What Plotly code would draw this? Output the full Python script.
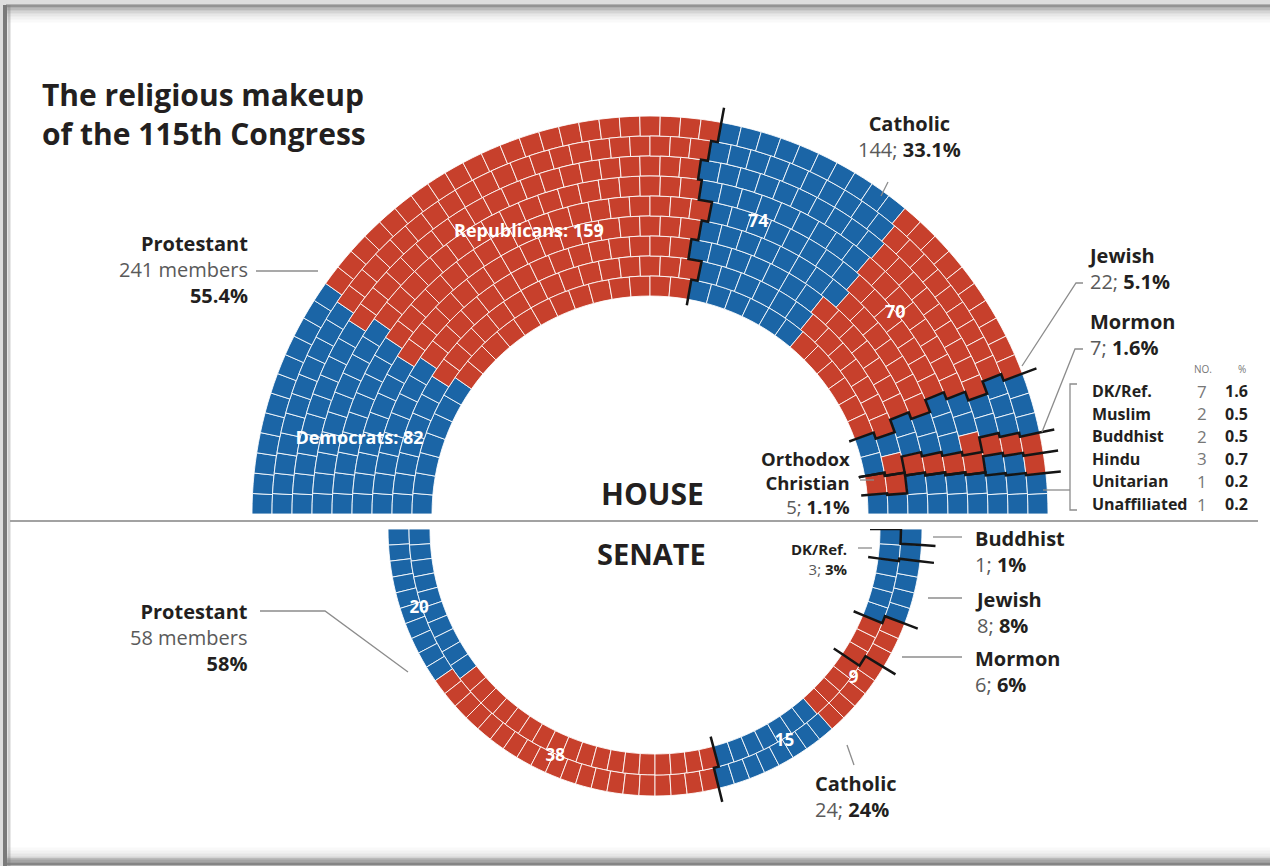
import numpy as np
import plotly.graph_objects as go

W, H = 1270, 866

# ---------------- DATA ----------------
house_groups = ["Protestant", "Catholic", "Jewish", "Mormon", "Orthodox Christian",
                "DK/Ref.", "Muslim", "Buddhist", "Hindu", "Unitarian", "Unaffiliated"]
house_dem = [82, 74, 20, 0, 2, 7, 2, 2, 3, 1, 1]
house_rep = [159, 70, 2, 7, 3, 0, 0, 0, 0, 0, 0]
house_lined = ["Protestant", "Catholic", "Jewish", "Mormon", "Orthodox Christian"]  # black line after these

senate_groups = ["Protestant", "Catholic", "Mormon", "Jewish", "DK/Ref.", "Buddhist"]
senate_dem = [20, 15, 0, 8, 3, 1]
senate_rep = [38, 9, 6, 0, 0, 0]
senate_lined = ["Protestant", "Catholic", "Mormon", "Jewish", "DK/Ref."]

table_names = ["DK/Ref.", "Muslim", "Buddhist", "Hindu", "Unitarian", "Unaffiliated"]

BLUE = "#1b65a6"
RED = "#c7402c"
DARK = "#231f20"
GRAY = "#5a5a5a"
FONT = "Open Sans"

# geometry (pixels)
H_CX, H_CY, H_RIN, H_ROUT, H_ROWS, H_EXT = 650, 514, 218, 398, 9, 15
S_CX, S_CY, S_RIN, S_ROUT, S_ROWS, S_EXT = 655, 529, 225, 267, 2, 14


def px(x):
    return x / W


def py(y):
    return 1 - y / H


def seat_layout(total, rows, r_in, r_out, t0, t1):
    dr = (r_out - r_in) / rows
    radii = np.array([r_in + (i + 0.5) * dr for i in range(rows)])
    raw = radii / radii.sum() * total
    counts = np.floor(raw).astype(int)
    rem = total - counts.sum()
    for k in np.argsort(-(raw - counts))[:rem]:
        counts[k] += 1
    seats = []
    for i, n in enumerate(counts):
        for j in range(n):
            p = (j + 0.5) / n
            seats.append(dict(p=p, row=i, n=n))
    seats.sort(key=lambda s: (s["p"], -s["row"]))
    for s in seats:
        s["theta"] = t0 + s["p"] * (t1 - t0)
        s["width"] = abs(t1 - t0) / s["n"]
        s["base"] = r_in + s["row"] * dr
    return seats, counts, dr


def build(groups, dem, rep, lined, rows, r_in, r_out, t0, t1, ext_out, ext_in):
    total = sum(dem) + sum(rep)
    seats, counts, dr = seat_layout(total, rows, r_in, r_out, t0, t1)
    k = 0
    gidx = {}
    bounds = []
    for g, d, r in zip(groups, dem, rep):
        start = k
        for _ in range(d):
            seats[k]["party"] = "D"; seats[k]["group"] = g; k += 1
        for _ in range(r):
            seats[k]["party"] = "R"; seats[k]["group"] = g; k += 1
        gidx[g] = (start, start + d, k)
        if g in lined:
            bounds.append(k)
    paths = []
    for K in bounds:
        m = np.zeros(rows)
        for s in seats[:K]:
            m[s["row"]] += 1
        rr, tt = [], []
        for i in range(rows):
            th = t0 + (m[i] / counts[i]) * (t1 - t0)
            ri = r_in + i * dr
            ro = ri + dr
            if i == 0:
                rr.append(ri - ext_in); tt.append(th)
            rr += [ri, ro]; tt += [th, th]
            if i == rows - 1:
                rr.append(ro + ext_out); tt.append(th)
        paths.append((rr, tt))
    return seats, gidx, paths, dr


def frac_theta(seats, a, b, f):
    th = [s["theta"] for s in seats[a:b]]
    lo, hi = th[0], th[-1]
    return lo + f * (hi - lo)


fig = go.Figure()

# ---------------- HOUSE ----------------
h_seats, h_idx, h_paths, h_dr = build(house_groups, house_dem, house_rep, house_lined,
                                      H_ROWS, H_RIN, H_ROUT, 180, 0, H_EXT, 6)
for party, col in (("D", BLUE), ("R", RED)):
    ss = [s for s in h_seats if s["party"] == party]
    fig.add_trace(go.Barpolar(
        theta=[s["theta"] for s in ss], r=[h_dr] * len(ss), base=[s["base"] for s in ss],
        width=[s["width"] for s in ss], marker=dict(color=col, line=dict(color="rgba(255,255,255,0.85)", width=1)),
        hoverinfo="skip", subplot="polar", showlegend=False))
for rr, tt in h_paths:
    fig.add_trace(go.Scatterpolar(r=rr, theta=tt, mode="lines", line=dict(color="#151515", width=2.5),
                                  hoverinfo="skip", subplot="polar", showlegend=False))

h_lab = []
a, d, b = h_idx["Protestant"]
h_lab += [(frac_theta(h_seats, a, d, 0.4), 300, f"Democrats: {house_dem[0]}"),
          (frac_theta(h_seats, d, b, 0.5), 306, f"Republicans: {house_rep[0]}")]
a, d, b = h_idx["Catholic"]
h_lab += [(frac_theta(h_seats, a, d, 0.35), 311, f"{house_dem[1]}"),
          (frac_theta(h_seats, d, b, 0.35), 317, f"{house_rep[1]}")]
fig.add_trace(go.Scatterpolar(r=[r for _, r, _ in h_lab], theta=[t for t, _, _ in h_lab],
                              text=[f"<b>{x}</b>" for _, _, x in h_lab],
                              mode="text", textfont=dict(color="white", size=18, family=FONT),
                              hoverinfo="skip", subplot="polar", showlegend=False))

# ---------------- SENATE ----------------
s_seats, s_idx, s_paths, s_dr = build(senate_groups, senate_dem, senate_rep, senate_lined,
                                      S_ROWS, S_RIN, S_ROUT, 180, 360, S_EXT, 10)
for party, col in (("D", BLUE), ("R", RED)):
    ss = [s for s in s_seats if s["party"] == party]
    fig.add_trace(go.Barpolar(
        theta=[s["theta"] for s in ss], r=[s_dr] * len(ss), base=[s["base"] for s in ss],
        width=[s["width"] for s in ss], marker=dict(color=col, line=dict(color="rgba(255,255,255,0.85)", width=1)),
        hoverinfo="skip", subplot="polar2", showlegend=False))
for rr, tt in s_paths:
    fig.add_trace(go.Scatterpolar(r=rr, theta=tt, mode="lines", line=dict(color="#151515", width=2.5),
                                  hoverinfo="skip", subplot="polar2", showlegend=False))
s_mid = (S_RIN + S_ROUT) / 2 + 3
s_lab = []
a, d, b = s_idx["Protestant"]
s_lab += [(frac_theta(s_seats, a, d, 0.5), f"{senate_dem[0]}"), (frac_theta(s_seats, d, b, 0.45), f"{senate_rep[0]}")]
a, d, b = s_idx["Catholic"]
s_lab += [(frac_theta(s_seats, a, d, 0.65), f"{senate_dem[1]}"), (frac_theta(s_seats, d, b, 0.7), f"{senate_rep[1]}")]
fig.add_trace(go.Scatterpolar(r=[s_mid] * len(s_lab), theta=[t for t, _ in s_lab], text=[f"<b>{x}</b>" for _, x in s_lab],
                              mode="text", textfont=dict(color="white", size=17, family=FONT),
                              hoverinfo="skip", subplot="polar2", showlegend=False))

HR = H_ROUT + H_EXT + 4
SR = S_ROUT + S_EXT + 4
fig.update_layout(
    width=W, height=H, margin=dict(l=0, r=0, t=0, b=0),
    paper_bgcolor="#dedede", plot_bgcolor="white",
    polar=dict(domain=dict(x=[px(H_CX - HR), px(H_CX + HR)], y=[py(H_CY), py(H_CY - HR)]),
               sector=[0, 180], bgcolor="rgba(0,0,0,0)",
               radialaxis=dict(visible=False, range=[0, HR]),
               angularaxis=dict(visible=False, direction="counterclockwise", rotation=0)),
    polar2=dict(domain=dict(x=[px(S_CX - SR), px(S_CX + SR)], y=[py(S_CY + SR), py(S_CY)]),
                sector=[180, 360], bgcolor="rgba(0,0,0,0)",
                radialaxis=dict(visible=False, range=[0, SR]),
                angularaxis=dict(visible=False, direction="counterclockwise", rotation=0)),
)

# ---------------- FRAME ----------------
shapes = []
shapes.append(dict(type="rect", xref="paper", yref="paper", x0=px(6), x1=px(1275), y0=py(858), y1=py(5),
                   fillcolor="white", line=dict(width=0), layer="below"))
for i, op in enumerate([0.55, 0.35, 0.22, 0.13, 0.07, 0.03]):
    shapes.append(dict(type="line", xref="paper", yref="paper", x0=px(6), x1=px(1275), y0=py(6 + 3 * i), y1=py(6 + 3 * i),
                       line=dict(color=f"rgba(60,60,60,{op})", width=3), layer="below"))
    shapes.append(dict(type="line", xref="paper", yref="paper", x0=px(6), x1=px(1275), y0=py(864 - 3 * i), y1=py(864 - 3 * i),
                       line=dict(color=f"rgba(60,60,60,{op})", width=3), layer="below"))
shapes.append(dict(type="line", xref="paper", yref="paper", x0=px(5), x1=px(5), y0=py(5), y1=py(866),
                   line=dict(color="#7a7a7a", width=4), layer="below"))
shapes.append(dict(type="line", xref="paper", yref="paper", x0=px(9), x1=px(9), y0=py(5), y1=py(866),
                   line=dict(color="rgba(120,120,120,0.35)", width=3), layer="below"))
shapes.append(dict(type="line", xref="paper", yref="paper", x0=px(10), x1=px(1258), y0=py(521), y1=py(521),
                   line=dict(color="#a2a2a2", width=2)))


def poly(points, color="#8c8c8c", width=1.3):
    path = "M " + " L ".join(f"{px(x)},{py(y)}" for x, y in points)
    shapes.append(dict(type="path", xref="paper", yref="paper", path=path, line=dict(color=color, width=width)))


poly([(256, 271), (318, 271)])
poly([(888, 182), (881, 196)])
poly([(1083, 283), (1076, 283), (1022, 366)])
poly([(1083, 349), (1075, 349), (1042, 432)])
poly([(1077, 384), (1070, 384), (1070, 510), (1077, 510)])
poly([(1043, 490), (1070, 490)])
poly([(860, 480), (874, 480)])
poly([(260, 611), (325, 611), (408, 672)])
poly([(858, 548), (872, 548)])
poly([(933, 537), (962, 537)])
poly([(928, 598), (962, 598)])
poly([(902, 657), (962, 657)])
poly([(847, 745), (854, 765)])

fig.update_layout(shapes=shapes)

anns = []


def block(x, y_first, lines, size=20, xanchor="left", color=DARK):
    n = len(lines)
    yc = y_first + (n - 1) * 1.3 * size / 2
    anns.append(dict(x=px(x), y=py(yc), xref="paper", yref="paper", text="<br>".join(lines), showarrow=False,
                     xanchor=xanchor, yanchor="middle", align=xanchor if xanchor != "center" else "center",
                     font=dict(size=size, color=color, family=FONT)))


def gray(t):
    return f"<span style='color:{GRAY}'>{t}</span>"


def numpct(n, pct):
    return f"{gray(str(n) + ';')} <b>{pct}</b>"


h_total = sum(house_dem) + sum(house_rep)
s_total = sum(senate_dem) + sum(senate_rep)


def htot(g):
    i = house_groups.index(g)
    return house_dem[i] + house_rep[i]


def stot(g):
    i = senate_groups.index(g)
    return senate_dem[i] + senate_rep[i]


def hp(g):
    return f"{100 * htot(g) / h_total:.1f}%"


def sp(g):
    return f"{100 * stot(g) // s_total}%"


anns.append(dict(x=px(40), y=py(72), xref="paper", yref="paper", showarrow=False, xanchor="left", yanchor="top",
                 align="left", text="<b>The religious makeup<br>of the 115th Congress</b>",
                 font=dict(size=30, color=DARK, family=FONT)))

# House labels
block(250, 243, ["<b>Protestant</b>", gray(f"{htot('Protestant')} members"), f"<b>{hp('Protestant')}</b>"], xanchor="right")
block(910, 124, ["<b>Catholic</b>", numpct(htot("Catholic"), hp("Catholic"))], xanchor="center")
block(1086, 255, ["<b>Jewish</b>", numpct(htot("Jewish"), hp("Jewish"))])
block(1088, 321, ["<b>Mormon</b>", numpct(htot("Mormon"), hp("Mormon"))])
block(852, 458, ["<b>Orthodox</b>", "<b>Christian</b>", numpct(htot("Orthodox Christian"), hp("Orthodox Christian"))],
      size=18.5, xanchor="right")

block(1203, 369, ["NO."], size=10, xanchor="center", color="#777")
block(1242, 369, ["%"], size=10, xanchor="center", color="#777")
for k, g in enumerate(table_names):
    yy = 391 + k * 22.6
    block(1090, yy, [f"<b>{g}</b>"], size=16)
    block(1209, yy, [str(htot(g))], size=17, xanchor="right", color="#777")
    block(1250, yy, [f"<b>{100 * htot(g) / h_total:.1f}</b>"], size=16, xanchor="right")

block(652, 494, ["<b>HOUSE</b>"], size=30, xanchor="center")
block(651, 553, ["<b>SENATE</b>"], size=29, xanchor="center")

# Senate labels
block(250, 611, ["<b>Protestant</b>", gray(f"{stot('Protestant')} members"), f"<b>{sp('Protestant')}</b>"], xanchor="right")
block(850, 549, ["<b>DK/Ref.</b>", numpct(stot("DK/Ref."), sp("DK/Ref."))], size=15, xanchor="right")
for g, yy in (("Buddhist", 538), ("Jewish", 599), ("Mormon", 658)):
    block(973, yy, [f"<b>{g}</b>", numpct(stot(g), sp(g))])
block(813, 783, ["<b>Catholic</b>", numpct(stot("Catholic"), sp("Catholic"))])

fig.update_layout(annotations=anns)

fig.write_html("out.html", config={"displayModeBar": False},
               post_script="document.body.style.margin='0px';document.body.style.overflow='hidden';")
